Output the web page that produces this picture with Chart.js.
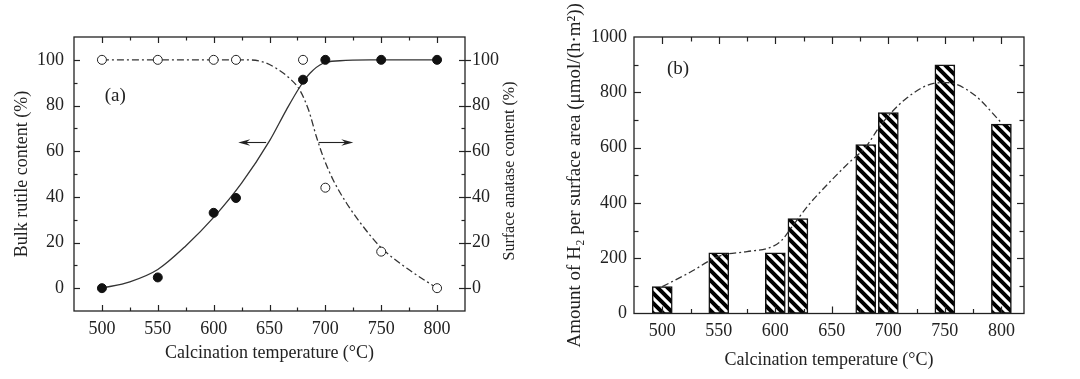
<!DOCTYPE html>
<html>
<head>
<meta charset="utf-8">
<script src="https://cdn.jsdelivr.net/npm/chart.js@4.4.1/dist/chart.umd.min.js"></script>
<style>
  body { margin: 0; background: #fff; }
  #wrap { position: relative; width: 1080px; height: 379px; }
  canvas { position: absolute; top: 0; }
  #chartA { left: 0; }
  #chartB { left: 540px; }
</style>
</head>
<body>
<div id="wrap">
  <canvas id="chartA" width="540" height="379"></canvas>
  <canvas id="chartB" width="540" height="379"></canvas>
</div>
<script>
// calcination temperatures of the samples (°C)
var temps = [500, 550, 600, 620, 680, 700, 750, 800];

// (a) measured phase contents (%)
var bulkRutile = [0, 4.7, 33, 39.5, 91.3, 100, 100, 100];
var surfaceAnatase = [100, 100, 100, 100, 100, 44, 16, 0];

// (a) fitted curves
var rutileFitX = [500, 525, 550, 575, 600, 625, 650, 665, 677, 686, 698, 713, 740, 800];
var rutileFitY = [0, 2.8, 8.2, 18.5, 31, 46, 64.5, 78, 88, 94, 98.5, 99.6, 100, 100];
var anataseFitX = [500, 630, 644, 656, 668, 677, 685, 692, 698, 707, 719, 734, 749, 773, 800];
var anataseFitY = [100, 100, 99.1, 96.3, 91.9, 86.8, 78, 66.3, 57.6, 47.4, 37.2, 26.9, 18.2, 8.7, 0];

// (a) arrows: tail and head temperature, at one content level
var arrowTail = [647, 694];
var arrowHead = [622, 725];
var arrowLevel = 64;

// (b) amount of H2 per surface area, umol/(h.m2)
var h2Amount = [97, 219, 219, 343, 611, 727, 899, 685];
var h2FitX = [500, 525, 550, 575, 595, 605, 615, 630, 645, 665, 680, 693, 715, 740, 752, 775, 800];
var h2FitY = [97, 150, 207, 224, 238, 262, 315, 395, 462, 545, 602, 680, 775, 832, 835, 794, 690];

var serif = "'Liberation Serif', 'DejaVu Serif', serif";
Chart.defaults.font.family = serif;
Chart.defaults.font.size = 18;
Chart.defaults.color = '#222';

function pts(xs, ys) {
    return xs.map(function (x, i) { return { x: x, y: ys[i] }; });
}

function seg(ctx, x0, y0, x1, y1) {
    ctx.beginPath();
    ctx.moveTo(x0, y0);
    ctx.lineTo(x1, y1);
    ctx.stroke();
}

// values inside the scale range that get a tick mark
function markValues(scale, step) {
    var out = [];
    for (var v = Math.ceil(scale.min / step) * step; v <= scale.max; v += step) {
        if (v > scale.min && v < scale.max) out.push(v);
    }
    return out;
}

// hatched fill for the bars
function hatch() {
    var c = document.createElement('canvas');
    c.width = 10; c.height = 10;
    var g = c.getContext('2d');
    g.fillStyle = '#fff';
    g.fillRect(0, 0, 10, 10);
    g.strokeStyle = '#000';
    g.lineWidth = 4;
    g.beginPath();
    [-10, 0, 10].forEach(function (k) {
        g.moveTo(k - 2, -2);
        g.lineTo(k + 12, 12);
    });
    g.stroke();
    return g.createPattern(c, 'repeat');
}

// box around the plot with inward tick marks (Origin style)
function framePlugin(o) {
    return {
        id: 'frame',
        afterDatasetsDraw: function (chart) {
            var ctx = chart.ctx, a = chart.chartArea;
            var sx = chart.scales.x, sy = chart.scales.y;
            ctx.save();
            ctx.setLineDash([]);
            ctx.strokeStyle = '#222';
            ctx.lineWidth = 1.3;
            ctx.strokeRect(a.left, a.top, a.right - a.left, a.bottom - a.top);
            ctx.lineWidth = 1.2;
            markValues(sx, o.xMinor).forEach(function (v) {
                var len = v % o.xMajor ? o.minor : o.major;
                var p = Math.round(sx.getPixelForValue(v)) + 0.5;
                seg(ctx, p, a.bottom, p, a.bottom - len);
                seg(ctx, p, a.top, p, a.top + len);
            });
            markValues(sy, o.yMinor).forEach(function (v) {
                var major = v % o.yMajor === 0;
                var len = major ? o.major : o.minor;
                var p = Math.round(sy.getPixelForValue(v)) + 0.5;
                seg(ctx, a.left, p, a.left + len, p);
                if (major && o.rightCross) seg(ctx, a.right - len, p, a.right + len, p);
                else seg(ctx, a.right, p, a.right - len, p);
            });
            ctx.restore();
        }
    };
}

function arrow(ctx, x0, x1, yy) {
    var d = x1 > x0 ? 1 : -1;
    seg(ctx, x0, yy, x1 - d * 6, yy);
    ctx.beginPath();
    ctx.moveTo(x1, yy);
    ctx.lineTo(x1 - d * 12, yy - 3.2);
    ctx.lineTo(x1 - d * 8, yy);
    ctx.lineTo(x1 - d * 12, yy + 3.2);
    ctx.closePath();
    ctx.fill();
}

var extrasA = {
    id: 'extrasA',
    afterDatasetsDraw: function (chart) {
        var ctx = chart.ctx, a = chart.chartArea;
        var sx = chart.scales.x, sy = chart.scales.y;
        ctx.save();
        ctx.setLineDash([]);
        ctx.fillStyle = '#222';
        ctx.strokeStyle = '#222';
        ctx.lineWidth = 1.1;
        ctx.textAlign = 'center';
        ctx.textBaseline = 'middle';
        ctx.font = '19px ' + serif;
        ctx.fillText('(a)', sx.getPixelForValue(512), sy.getPixelForValue(84));
        var yy = Math.round(sy.getPixelForValue(arrowLevel)) + 0.5;
        for (var i = 0; i < arrowTail.length; i++) {
            arrow(ctx, sx.getPixelForValue(arrowTail[i]), sx.getPixelForValue(arrowHead[i]), yy);
        }
        // right axis title reads bottom to top like the left one
        ctx.font = '16px ' + serif;
        ctx.translate(a.right + 45, (a.top + a.bottom) / 2 - 3);
        ctx.rotate(-Math.PI / 2);
        ctx.fillText('Surface anatase content (%)', 0, 0);
        ctx.restore();
    }
};

var extrasB = {
    id: 'extrasB',
    afterDatasetsDraw: function (chart) {
        var ctx = chart.ctx;
        ctx.save();
        ctx.fillStyle = '#222';
        ctx.textAlign = 'center';
        ctx.textBaseline = 'middle';
        ctx.font = '19px ' + serif;
        ctx.fillText('(b)', chart.scales.x.getPixelForValue(514), chart.scales.y.getPixelForValue(884));
        ctx.restore();
    }
};

var pctTicks = function (v) { return (v % 20 === 0 && v >= 0 && v <= 100) ? v : ''; };
var noGrid = { display: false, drawTicks: false };

// (a) phase contents
new Chart(document.getElementById('chartA'), {
    type: 'line',
    data: {
        datasets: [
            {
                data: pts(temps, bulkRutile), yAxisID: 'y', showLine: false,
                pointRadius: 4.5, pointBackgroundColor: '#111', pointBorderColor: '#111', order: 0
            },
            {
                data: pts(temps, surfaceAnatase), yAxisID: 'y1', showLine: false,
                pointRadius: 4.5, pointBackgroundColor: '#fff', pointBorderColor: '#222',
                pointBorderWidth: 1, order: 0
            },
            {
                data: pts(rutileFitX, rutileFitY), yAxisID: 'y', pointRadius: 0,
                borderColor: '#333', borderWidth: 1.3, cubicInterpolationMode: 'monotone', order: 1
            },
            {
                data: pts(anataseFitX, anataseFitY), yAxisID: 'y1', pointRadius: 0,
                borderColor: '#333', borderWidth: 1.3, borderDash: [7, 3, 2, 3],
                cubicInterpolationMode: 'monotone', order: 1
            }
        ]
    },
    options: {
        responsive: false,
        animation: false,
        devicePixelRatio: 1,
        layout: { padding: { top: 37, left: 0, right: 0, bottom: 0 } },
        plugins: { legend: { display: false }, tooltip: { enabled: false } },
        scales: {
            x: {
                type: 'linear', min: 475, max: 825,
                grid: noGrid, border: { display: false },
                ticks: {
                    stepSize: 25, autoSkip: false, maxRotation: 0, padding: 7,
                    callback: function (v) { return v % 50 === 0 ? v : ''; }
                },
                title: { display: true, text: 'Calcination temperature (°C)', padding: { top: 0, bottom: 15 } },
                afterFit: function (s) { s.height = 68; }
            },
            y: {
                min: -10, max: 110,
                grid: noGrid, border: { display: false },
                ticks: { stepSize: 10, autoSkip: false, padding: 10, callback: pctTicks },
                title: { display: true, text: 'Bulk rutile content (%)', padding: { top: 11, bottom: 0 } },
                afterFit: function (s) { s.width = 74; }
            },
            y1: {
                position: 'right', min: -10, max: 110,
                grid: noGrid, border: { display: false },
                ticks: { stepSize: 10, autoSkip: false, padding: 7, callback: pctTicks },
                afterFit: function (s) { s.width = 75; }
            }
        }
    },
    plugins: [framePlugin({ xMinor: 25, xMajor: 50, yMinor: 10, yMajor: 20, major: 6, minor: 3.5, rightCross: true }), extrasA]
});

// (b) H2 evolution per surface area
new Chart(document.getElementById('chartB'), {
    type: 'bar',
    data: {
        datasets: [
            {
                type: 'line', data: pts(h2FitX, h2FitY), pointRadius: 0,
                borderColor: '#333', borderWidth: 1.3, borderDash: [7, 3, 2, 3],
                cubicInterpolationMode: 'monotone', order: 0
            },
            {
                type: 'bar', data: pts(temps, h2Amount), backgroundColor: hatch(),
                borderColor: '#111', borderWidth: 1.5, borderSkipped: false,
                barThickness: 20, order: 1
            }
        ]
    },
    options: {
        responsive: false,
        animation: false,
        devicePixelRatio: 1,
        layout: { padding: { top: 37, left: 0, right: 56, bottom: 0 } },
        plugins: { legend: { display: false }, tooltip: { enabled: false } },
        scales: {
            x: {
                type: 'linear', min: 475, max: 820, offset: false,
                grid: { display: false, drawTicks: false, offset: false }, border: { display: false },
                ticks: {
                    stepSize: 25, autoSkip: false, maxRotation: 0, padding: 7, includeBounds: false,
                    callback: function (v) { return v % 50 === 0 ? v : ''; }
                },
                title: { display: true, text: 'Calcination temperature (°C)', padding: { top: 0, bottom: 8 } },
                afterFit: function (s) { s.height = 65.5; }
            },
            y: {
                min: 0, max: 1000,
                grid: noGrid, border: { display: false },
                ticks: {
                    stepSize: 100, autoSkip: false, padding: 7,
                    callback: function (v) { return v % 200 === 0 ? v : ''; }
                },
                title: {
                    display: true, text: 'Amount of H\u2082 per surface area (\u03bcmol/(h\u00b7m\u00b2))',
                    font: { size: 19 }, padding: { top: 24, bottom: 0 }
                },
                afterFit: function (s) { s.width = 94; }
            }
        }
    },
    plugins: [framePlugin({ xMinor: 25, xMajor: 50, yMinor: 100, yMajor: 200, major: 7, minor: 4.5, rightCross: false }), extrasB]
});
</script>
</body>
</html>
